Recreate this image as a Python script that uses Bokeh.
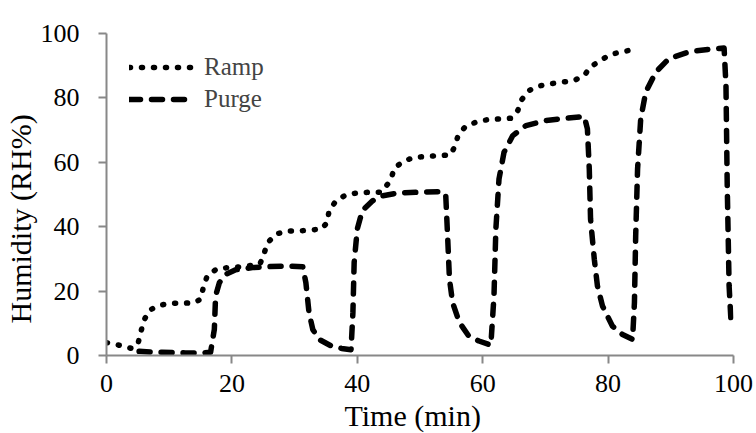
from bokeh.plotting import figure
from bokeh.models import Legend, LegendItem, FixedTicker, Title
from bokeh.embed import file_html
from bokeh.resources import INLINE

# Ramp series (time in min, humidity RH%)
ramp_t = [0, 2, 4, 5, 5.5, 6, 6.8, 8.4, 10.3, 12.1, 14, 15, 15.5, 16.1, 17.7, 19.6,
          22, 24.5, 25.1, 25.7, 27, 28.9, 30.7, 32.4, 34.3, 35.2, 35.5, 36.6, 38.2,
          40, 41.9, 43.8, 45.3, 45.9, 47.5, 49.3, 51.2, 53, 54.9, 55.6, 56.1, 57.3,
          59, 60.9, 62.8, 64.6, 65.6, 66.2, 67.4, 69, 70.9, 72.7, 74.6, 76.2, 77.2,
          78.8, 80.4, 82.2, 84]
ramp_rh = [4, 3.2, 2.2, 3.5, 7.5, 11, 14, 15.6, 16.2, 16.2, 16.4, 17.5, 21.6, 24.9, 27, 27.3,
           27.6, 28.5, 31.5, 35, 37.7, 38.7, 38.7, 38.9, 39.3, 41.3, 45, 48, 49.9,
           50.5, 50.7, 50.7, 54.3, 58.2, 60.5, 61.6, 61.8, 62.1, 62.3, 65.2, 68.5, 71.2,
           72.5, 73.3, 73.5, 73.7, 76.1, 79.4, 82.3, 83.7, 84.4, 84.9, 85.4, 87, 89.6,
           91.7, 93.5, 94.3, 95]

# Purge series
purge_t = [5.2, 7, 8.9, 12.6, 15.3, 16.6, 17.2, 17.4, 18, 19, 20.6, 23.3, 25.9, 29.1, 31.3,
           31.8, 32.3, 32.9, 33.9, 36, 37.5, 39, 39.3, 39.5, 40, 40.8, 42.4, 44, 46.7,
           49.9, 53.6, 54.1, 54.4, 54.7, 55.2, 56.3, 57.8, 59.4, 61.3, 61.8, 62.1, 62.6,
           63.4, 64.8, 66.9, 70.1, 73.3, 76.2, 76.7, 77, 77.2, 77.8, 78.3, 79.1, 80.7,
           82.3, 83.9, 84.2, 84.4, 84.7, 85.2, 86, 87.6, 89.7, 92.9, 96.1, 98.5, 98.8,
           99, 99.3, 99.6]
purge_rh = [1.3, 1.1, 1.0, 0.8, 0.8, 1.0, 8.1, 18.5, 22.6, 25.2, 26.6, 27.3, 27.6, 27.8, 27.6,
            22.6, 13.3, 8.1, 5, 2.8, 2.2, 1.8, 13.3, 28.9, 39.3, 45, 48, 49.6, 50.5,
            50.7, 50.9, 50, 37.2, 23.7, 16.4, 10.2, 6, 4.5, 3.2, 18.5, 39.3, 54.8,
            63.1, 68.3, 71.4, 73, 73.7, 74.2, 70.4, 57.9, 42.4, 29.9, 21.6, 15.4, 9.1,
            6.5, 5, 16.4, 37.2, 57.9, 73.5, 81.8, 88, 92.2, 94.3, 95.1, 95.5, 83.9,
            52.7, 21.6, 10.7]

x_ticks = [0, 20, 40, 60, 80, 100]
y_ticks = [0, 20, 40, 60, 80, 100]
series_names = ["Ramp", "Purge"]
x_title = "Time (min)"
y_title = "Humidity (RH%)"

FONT = "Liberation Serif"
AXIS_COLOR = "#888888"

p = figure(frame_width=627, frame_height=322, output_backend="svg", toolbar_location=None,
           x_range=(0, 100), y_range=(0, 100),
           min_border_left=105, min_border_right=24, min_border_top=33, min_border_bottom=78)
p.outline_line_color = None
p.background_fill_color = "white"
p.xgrid.grid_line_color = None
p.ygrid.grid_line_color = None

r1 = p.line(ramp_t, ramp_rh, line_color="black", line_width=5.5, line_dash="1 11",
            line_cap="round", line_join="round")
r2 = p.line(purge_t, purge_rh, line_color="black", line_width=5.5, line_dash="11 11",
            line_cap="round", line_join="round")

for ax in (p.xaxis[0], p.yaxis[0]):
    ax.axis_line_color = AXIS_COLOR
    ax.axis_line_width = 2
    ax.major_tick_line_color = AXIS_COLOR
    ax.major_tick_line_width = 2
    ax.major_tick_out = 8
    ax.major_tick_in = 0
    ax.minor_tick_line_color = None
    ax.major_label_text_font = FONT
    ax.major_label_text_font_size = "26px"
    ax.major_label_text_color = "black"

p.xaxis.ticker = FixedTicker(ticks=x_ticks)
p.yaxis.ticker = FixedTicker(ticks=y_ticks)
p.xaxis.major_label_standoff = 11
p.yaxis.major_label_standoff = 19

xtitle = Title(text=x_title, align="left", offset=238, standoff=4,
               text_font=FONT, text_font_size="30px", text_font_style="normal",
               text_color="black")
p.add_layout(xtitle, "below")

ytitle = Title(text=y_title, align="left", offset=32, standoff=2,
               text_font=FONT, text_font_size="30px", text_font_style="normal",
               text_color="black")
p.add_layout(ytitle, "left")

legend = Legend(items=[LegendItem(label=series_names[0], renderers=[r1]),
                       LegendItem(label=series_names[1], renderers=[r2])],
                location=(23, 241), padding=0, margin=0, spacing=2,
                glyph_width=65, glyph_height=30, label_height=30, label_standoff=10,
                label_text_font=FONT, label_text_font_size="25px",
                border_line_color=None, background_fill_alpha=0)
p.add_layout(legend)

open("out.html", "w").write(file_html(p, INLINE))
